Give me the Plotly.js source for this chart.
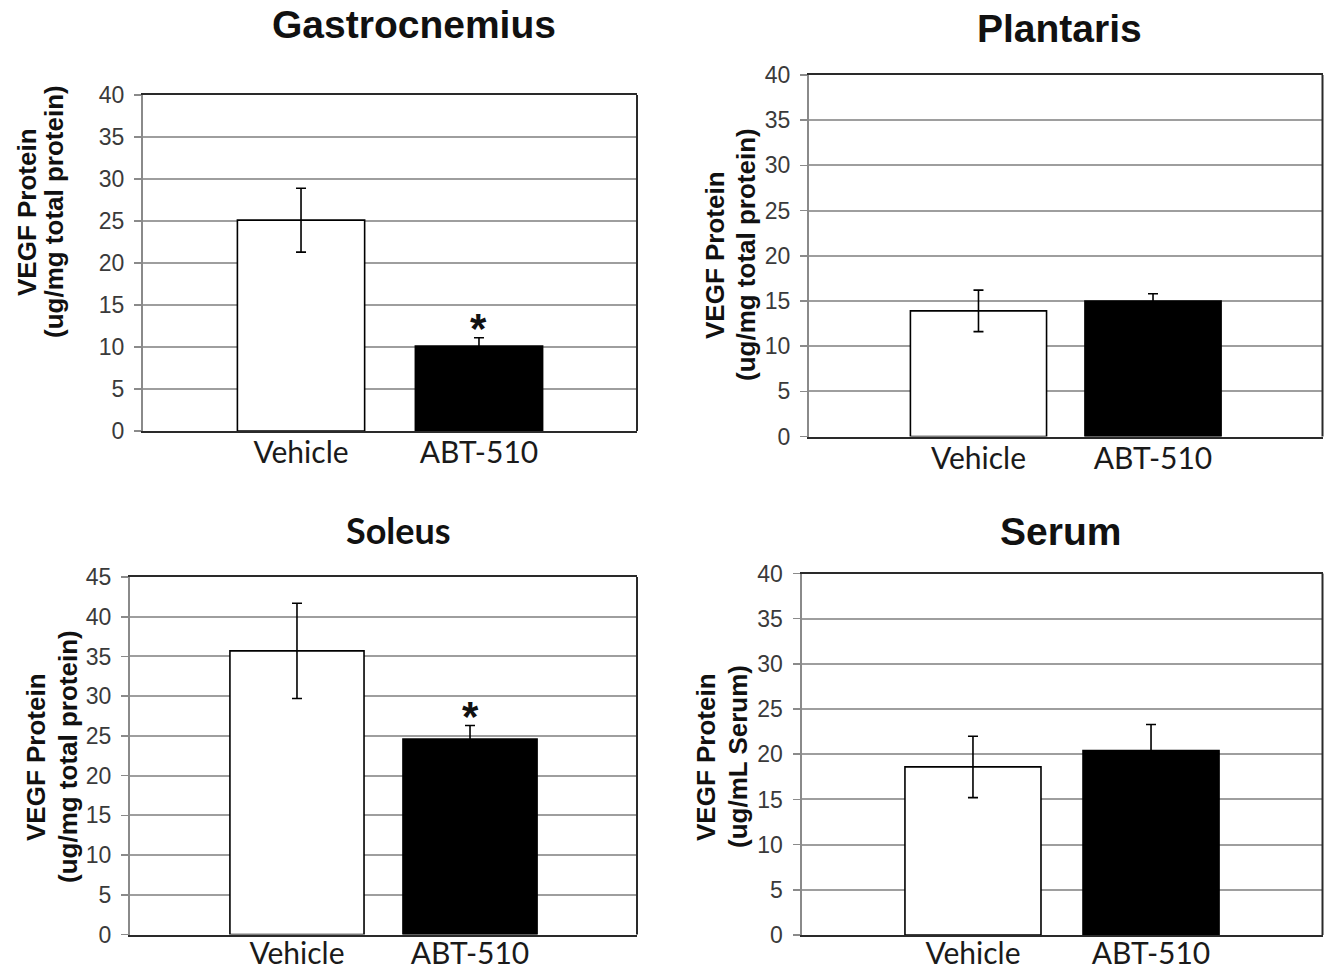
<!DOCTYPE html>
<html>
<head>
<meta charset="utf-8">
<script src="https://cdn.plot.ly/plotly-3.0.1.min.js"></script>
<style>html,body{margin:0;padding:0;background:#fff;}#chart{width:1324px;height:973px;}</style>
</head>
<body>
<div id="chart"></div>
<script>
// ---- data ----
const groups = ["Vehicle", "ABT-510"];
const panelTitles = ["Gastrocnemius", "Plantaris", "Soleus", "Serum"];
const yTitleLine1 = ["VEGF Protein", "VEGF Protein", "VEGF Protein", "VEGF Protein"];
const yTitleLine2 = ["(ug/mg total protein)", "(ug/mg total protein)", "(ug/mg total protein)", "(ug/mL Serum)"];
const gastroMean = [25.1, 10.1];
const gastroErr = [3.8, 1.0];
const plantarisMean = [13.9, 15.0];
const plantarisErr = [2.3, 0.8];
const soleusMean = [35.7, 24.6];
const soleusErr = [6.0, 1.7];
const serumMean = [18.6, 20.4];
const serumErr = [3.4, 2.9];
const significant = [[false, true], [false, false], [false, true], [false, false]];
const yMax = [40, 40, 45, 40];

// ---- layout geometry (pixels) ----
const W = 1324, H = 973;
const boxes = [
  {l: 143, r: 637, t: 95, b: 431, half: 1.388, bw: 0.715, yt1: 27, yt2: 54, ytc: 212, tx: 414, ty: 25, tfont: "Liberation Sans, Arial, sans-serif", tsize: 39, lstand: -6},
  {l: 809, r: 1322.5, t: 75, b: 436.5, half: 1.471, bw: 0.78, yt1: 715, yt2: 746, ytc: 255, tx: 1059, ty: 28, tfont: "Liberation Sans, Arial, sans-serif", tsize: 39, lstand: -6},
  {l: 130, r: 637, t: 577, b: 934.5, half: 1.465, bw: 0.775, yt1: 36, yt2: 68, ytc: 757, tx: 398, ty: 530, tfont: "Lato, sans-serif", tsize: 36, lstand: -9},
  {l: 801.5, r: 1322.5, t: 573.5, b: 935, half: 1.463, bw: 0.764, yt1: 706, yt2: 738, ytc: 757, tx: 1060, ty: 531, tfont: "Liberation Sans, Arial, sans-serif", tsize: 39, lstand: -9}
];
const means = [gastroMean, plantarisMean, soleusMean, serumMean];
const errs = [gastroErr, plantarisErr, soleusErr, serumErr];

const traces = [];
const layout = {
  width: W, height: H,
  margin: {l: 0, r: 0, t: 0, b: 0},
  paper_bgcolor: "#fff", plot_bgcolor: "#fff",
  showlegend: false,
  annotations: [], shapes: []
};
const tickFont = {family: "Liberation Sans Narrow, Arial Narrow, Liberation Sans, sans-serif", size: 23, color: "#3a3a3a"};
const catFont = {family: "Lato, sans-serif", size: 30, color: "#1a1a1a"};
const yTitleFont = {family: "Liberation Sans, Arial, sans-serif", size: 26, color: "#111"};

boxes.forEach((b, i) => {
  const n = i + 1;
  const xa = n === 1 ? "x" : "x" + n;
  const ya = n === 1 ? "y" : "y" + n;
  const xk = n === 1 ? "xaxis" : "xaxis" + n;
  const yk = n === 1 ? "yaxis" : "yaxis" + n;
  traces.push({
    type: "bar", x: groups, y: means[i], xaxis: xa, yaxis: ya, width: b.bw,
    marker: {color: ["#ffffff", "#000000"], line: {color: "#000", width: 1.6}},
    error_y: {type: "data", array: errs[i], visible: true, color: "#000", thickness: 1.6, width: 5},
    hoverinfo: "skip"
  });
  layout[xk] = {
    domain: [b.l / W, b.r / W], anchor: ya, type: "category",
    range: [0.5 - b.half, 0.5 + b.half], fixedrange: true,
    showgrid: false, zeroline: false,
    showline: true, linecolor: "#2a2a2a", linewidth: 2, mirror: true,
    ticks: "", tickfont: catFont, ticklabelstandoff: b.lstand
  };
  layout[yk] = {
    domain: [1 - b.b / H, 1 - b.t / H], anchor: xa,
    range: [0, yMax[i]], dtick: 5, tick0: 0, fixedrange: true,
    showgrid: true, gridcolor: "#9e9e9e", gridwidth: 2,
    zeroline: false, showline: true, linecolor: "#8a8a8a", linewidth: 2,
    ticks: "outside", ticklen: 7, tickwidth: 1.6, tickcolor: "#8a8a8a",
    tickfont: tickFont, ticklabelstandoff: 5
  };
  // right border of plot frame
  layout.shapes.push({type: "line", xref: xa + " domain", yref: ya + " domain",
    x0: 1, x1: 1, y0: 0, y1: 1, line: {color: "#2a2a2a", width: 2}, layer: "above"});
  // panel title
  layout.annotations.push({xref: "paper", yref: "paper", x: b.tx / W, y: 1 - b.ty / H,
    xanchor: "center", yanchor: "middle", showarrow: false, text: "<b>" + panelTitles[i] + "</b>",
    font: {family: b.tfont, size: b.tsize, color: "#111"}});
  // y-axis title (two lines)
  layout.annotations.push({xref: "paper", yref: "paper", x: b.yt1 / W, y: 1 - b.ytc / H,
    xanchor: "center", yanchor: "middle", showarrow: false, textangle: -90,
    text: "<b>" + yTitleLine1[i] + "</b>", font: yTitleFont});
  layout.annotations.push({xref: "paper", yref: "paper", x: b.yt2 / W, y: 1 - b.ytc / H,
    xanchor: "center", yanchor: "middle", showarrow: false, textangle: -90,
    text: "<b>" + yTitleLine2[i] + "</b>", font: yTitleFont});
  // significance asterisks
  groups.forEach((g, j) => {
    if (significant[i][j]) {
      layout.annotations.push({xref: xa, yref: ya, x: g, y: means[i][j] + errs[i][j],
        xanchor: "center", yanchor: "middle", yshift: 9, showarrow: false,
        text: "<b>*</b>", font: {family: "Liberation Sans, Arial, sans-serif", size: 42, color: "#111"}});
    }
  });
});

Plotly.newPlot("chart", traces, layout, {staticPlot: true, displayModeBar: false});
</script>
</body>
</html>
